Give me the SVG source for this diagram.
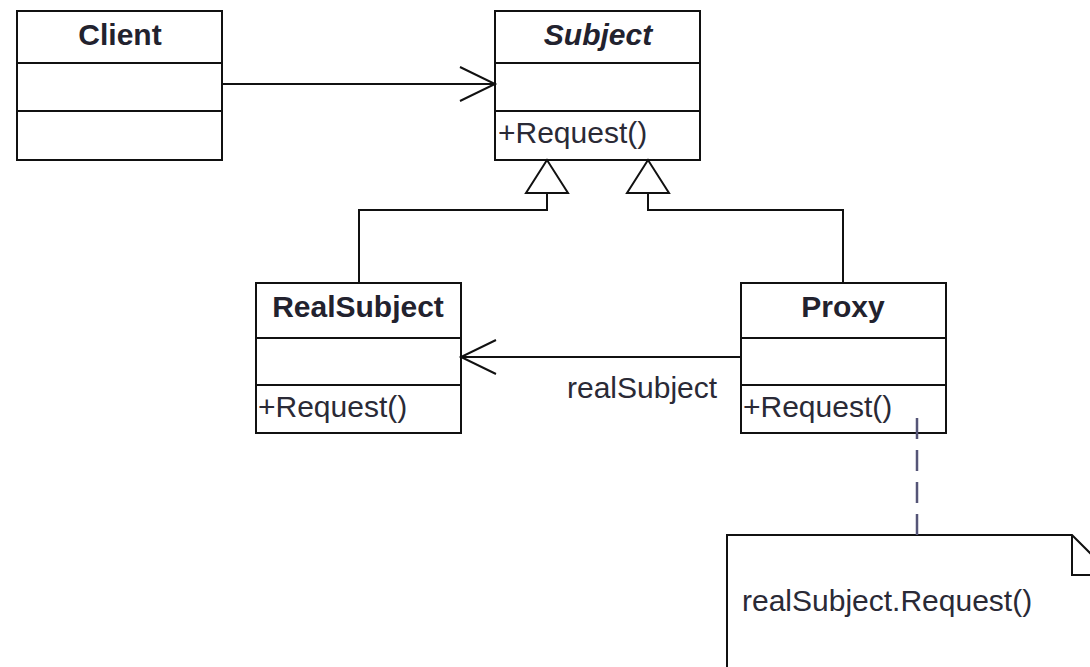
<svg xmlns="http://www.w3.org/2000/svg" width="1090" height="667" viewBox="0 0 1090 667">
<defs>
<style>
.box{fill:#fff;stroke:#111;stroke-width:2}
.sep{stroke:#111;stroke-width:2}
.ln{fill:none;stroke:#111;stroke-width:2}
.title{font-family:"Liberation Sans",Arial,sans-serif;font-size:30px;font-weight:bold;fill:#22222e;text-anchor:middle}
.op{font-family:"Liberation Sans",Arial,sans-serif;font-size:30px;fill:#2a2a36}
.dash{stroke:#555577;stroke-width:2.5;stroke-dasharray:21 11;fill:none}
</style>
</defs>
<rect width="1090" height="667" fill="#fff"/>
<g id="client">
<rect class="box" x="17" y="11" width="205" height="149"/>
<line class="sep" x1="17" y1="63" x2="222" y2="63"/>
<line class="sep" x1="17" y1="111" x2="222" y2="111"/>
<text class="title" x="120" y="45">Client</text>
</g>
<g id="subject">
<rect class="box" x="495" y="11" width="205" height="149"/>
<line class="sep" x1="495" y1="63" x2="700" y2="63"/>
<line class="sep" x1="495" y1="111" x2="700" y2="111"/>
<text class="title" x="598" y="45" font-style="italic">Subject</text>
<text class="op" x="498" y="143">+Request()</text>
</g>
<g id="realsubject">
<rect class="box" x="256" y="283" width="205" height="150"/>
<line class="sep" x1="256" y1="338" x2="461" y2="338"/>
<line class="sep" x1="256" y1="385" x2="461" y2="385"/>
<text class="title" x="358" y="317">RealSubject</text>
<text class="op" x="258" y="417">+Request()</text>
</g>
<g id="proxy">
<rect class="box" x="741" y="283" width="205" height="150"/>
<line class="sep" x1="741" y1="338" x2="946" y2="338"/>
<line class="sep" x1="741" y1="385" x2="946" y2="385"/>
<text class="title" x="843" y="317">Proxy</text>
<text class="op" x="743" y="417">+Request()</text>
</g>
<g id="note">
<path class="ln" d="M727,680 L727,535 L1072,535 L1112,575 L1112,680" fill="#fff"/>
<polyline class="ln" points="1072,535 1072,575 1112,575"/>
<text class="op" x="742" y="611">realSubject.Request()</text>
</g>
<g id="connectors">
<line class="ln" x1="222" y1="84" x2="495" y2="84"/>
<polyline class="ln" points="460,67 495,84 460,101"/>
<polyline class="ln" points="547,193 547,210 359,210 359,283"/>
<polygon class="ln" points="547,160 526,193 568,193" fill="#fff"/>
<polyline class="ln" points="648,193 648,210 843,210 843,283"/>
<polygon class="ln" points="648,160 627,193 669,193" fill="#fff"/>
<line class="ln" x1="741" y1="357" x2="461" y2="357"/>
<polyline class="ln" points="496,340 461,357 496,374"/>
<text class="op" x="567" y="398">realSubject</text>
<line class="dash" x1="917" y1="418" x2="917" y2="535"/>
</g>
</svg>
